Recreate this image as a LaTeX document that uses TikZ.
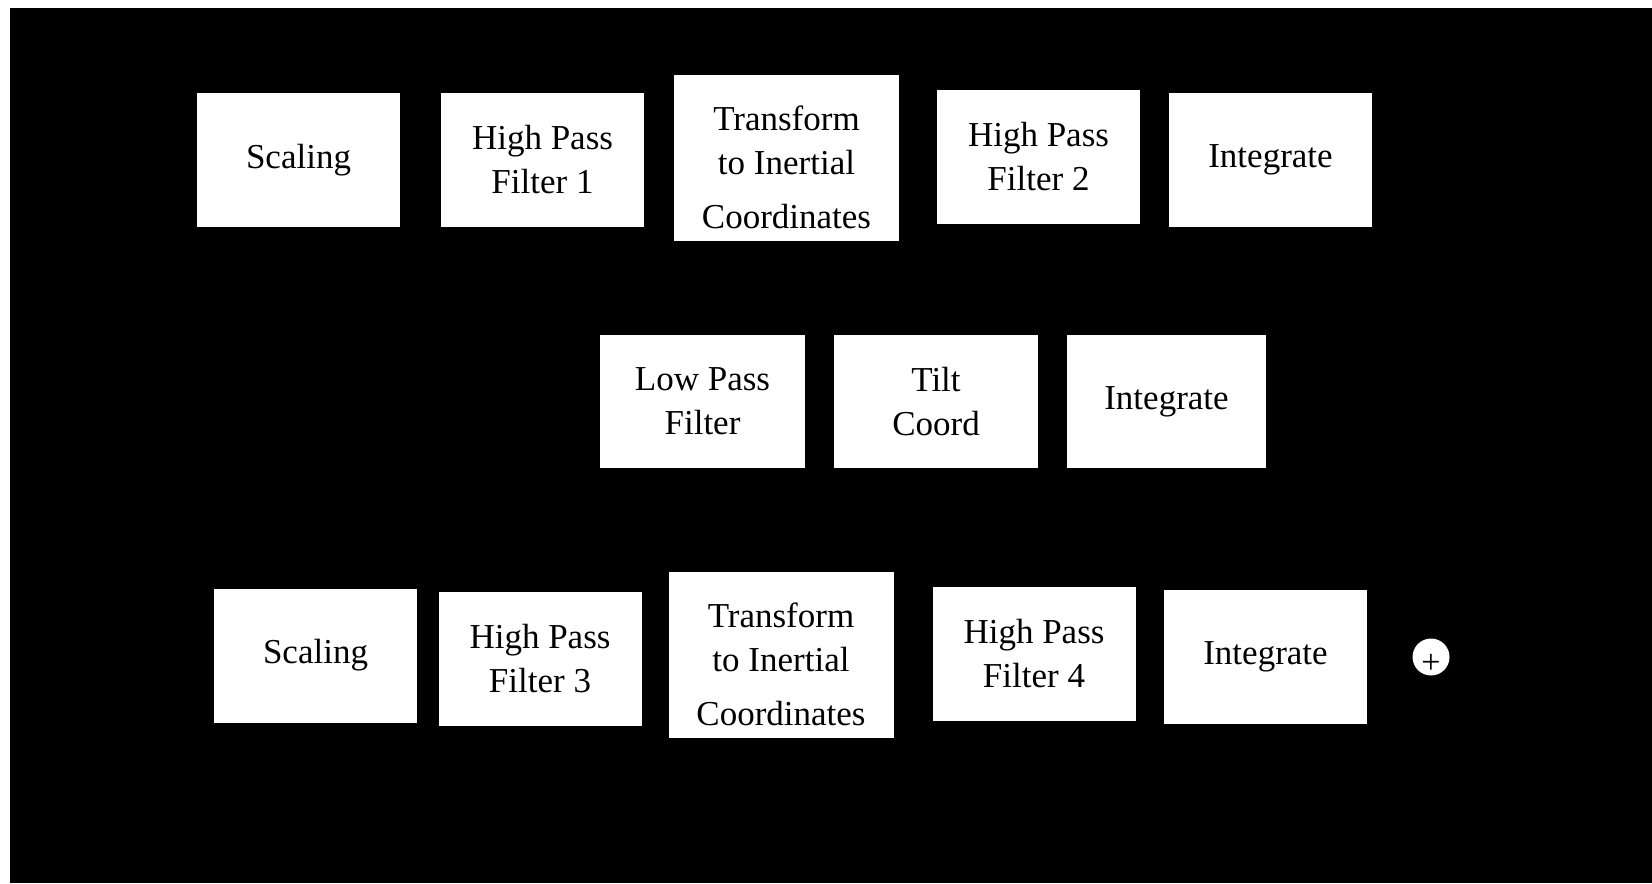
\documentclass[tikz,border=0pt]{standalone}
\usepackage{fontspec}
\setmainfont{Liberation Serif}
\usepackage{tikz}

\begin{document}
\begin{tikzpicture}[x=0.5pt,y=-0.5pt,
      block/.style={rectangle,fill=white,inner sep=0pt,align=center,
        minimum width=101.5pt,minimum height=67pt},
      tall/.style={minimum width=112.5pt,minimum height=83pt},
      sumnode/.style={circle,fill=white,inner sep=0pt,minimum size=18.5pt}]
      \tikzstyle{every node}=[font=\fontsize{17.5}{22}\selectfont]
      \useasboundingbox (0,0) rectangle (1652,883);
      \fill[white] (0,0) rectangle (1652,883);
      \fill[black] (10,8) rectangle (1652,883);
      % upper row
      \node[block] (ScaleA) at (298.5,160) {Scaling};
      \node[block] (HighA) at (542.5,160) {High Pass\\Filter 1};
      \node[block,tall] (TransA) at (786.5,158) {\rule{0pt}{22pt}Transform\\to Inertial\\[5pt]Coordinates};
      \node[block] (HighB) at (1038.5,157) {High Pass\\Filter 2};
      \node[block] (IntA) at (1270.5,160) {Integrate};
      % middle row
      \node[block,minimum width=102.5pt,minimum height=66.5pt] (LowPass) at (702.5,401.5) {Low Pass\\Filter};
      \node[block,minimum width=102pt,minimum height=66.5pt] (Tilt) at (936,401.5) {Tilt\\Coord};
      \node[block,minimum width=99.5pt,minimum height=66.5pt] (IntB) at (1166.5,401.5) {Integrate};
      % lower row
      \node[block] (ScaleB) at (315.5,655.5) {Scaling};
      \node[block] (HighC) at (540,658.5) {High Pass\\Filter 3};
      \node[block,tall] (TransB) at (781,654.5) {\rule{0pt}{22pt}Transform\\to Inertial\\[5pt]Coordinates};
      \node[block] (HighD) at (1034,653.5) {High Pass\\Filter 4};
      \node[block] (IntC) at (1265.5,656.5) {Integrate};
      \node[sumnode] (Sum) at (1431,657) {};
      \node[font=\fontsize{17}{17}\selectfont] at ([yshift=-3.5pt]Sum.center) {+};
\end{tikzpicture}
\end{document}
